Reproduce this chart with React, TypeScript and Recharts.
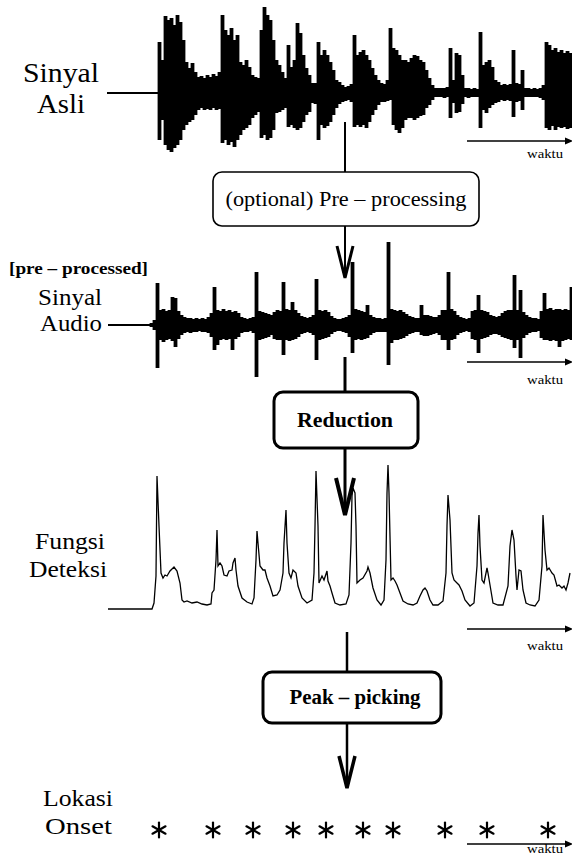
import { Bar, ComposedChart, Line, LineChart, Scatter, ScatterChart, XAxis, YAxis } from "recharts"

// Sinyal Asli: upper / lower envelope per 3px column (17 silent columns first)
const asliAtas = [
  1, 1, 1, 1, 1, 1, 1, 1, 1, 1, 1, 1, 1, 1, 1, 1, 1,
  51, 33, 77, 73, 75, 68, 78, 71, 53, 31,
  25, 30, 21, 16, 17, 15, 18, 16, 19, 17,
  21, 78, 63, 58, 65, 53, 58, 31, 28, 33,
  26, 18, 16, 15, 63, 86, 78, 73, 53, 33,
  28, 21, 15, 48, 26, 33, 70, 60, 38, 25,
  18, 10, 10, 51, 38, 43, 38, 31, 23, 13,
  11, 8, 6, 7, 9, 58, 38, 41, 43, 38,
  33, 25, 18, 13, 10, 9, 13, 65, 45, 43,
  38, 33, 33, 31, 35, 38, 37, 33, 31, 23,
  15, 8, 5, 5, 5, 5, 6, 45, 13, 40,
  38, 18, 5, 5, 4, 5, 4, 61, 28, 31,
  33, 26, 13, 11, 8, 9, 8, 9, 43, 10,
  9, 23, 5, 5, 4, 5, 4, 5, 8, 51,
  48, 43, 45, 41, 43, 40, 42, 40,
]
const asliBawah = [
  -1, -1, -1, -1, -1, -1, -1, -1, -1, -1, -1, -1, -1, -1, -1, -1, -1,
  -47, -27, -52, -57, -59, -55, -52, -47, -37, -32,
  -29, -27, -22, -17, -15, -17, -16, -17, -15, -17,
  -16, -50, -47, -52, -49, -54, -47, -42, -37, -35,
  -32, -25, -22, -19, -45, -42, -47, -45, -37, -20,
  -19, -17, -15, -34, -32, -35, -37, -35, -29, -22,
  -19, -10, -11, -47, -32, -35, -33, -29, -22, -15,
  -11, -9, -8, -7, -9, -34, -32, -34, -32, -35,
  -29, -22, -17, -12, -9, -9, -8, -7, -32, -37,
  -40, -35, -27, -25, -25, -27, -25, -23, -22, -15,
  -12, -7, -4, -4, -4, -5, -4, -25, -10, -20,
  -19, -11, -4, -5, -4, -4, -4, -35, -17, -20,
  -15, -12, -10, -9, -7, -8, -7, -8, -24, -9,
  -8, -17, -4, -4, -4, -4, -4, -5, -7, -35,
  -37, -33, -37, -34, -35, -34, -36, -35,
]

// Sinyal Audio (pre-processed): 14 silent columns first
const audioAtas = [
  1, 1, 1, 1, 1, 1, 1, 1, 1, 1, 1, 1, 1, 1,
  2, 5, 42, 15, 16, 14, 15, 28, 27, 14,
  10, 8, 7, 7, 6, 7, 6, 7, 6, 8,
  12, 38, 15, 14, 16, 14, 15, 13, 14, 12,
  8, 7, 6, 7, 8, 53, 14, 13, 12, 11,
  10, 13, 15, 14, 43, 16, 15, 23, 15, 12,
  9, 8, 7, 8, 10, 46, 15, 14, 15, 13,
  9, 7, 6, 6, 7, 8, 10, 63, 16, 15,
  14, 13, 20, 10, 8, 7, 7, 6, 7, 83,
  16, 15, 14, 15, 13, 11, 9, 8, 7, 7,
  20, 10, 10, 9, 8, 8, 10, 15, 15, 53,
  16, 14, 10, 8, 7, 6, 7, 14, 15, 30,
  15, 14, 13, 10, 9, 8, 9, 12, 14, 15,
  15, 50, 15, 35, 13, 10, 8, 7, 7, 6,
  14, 32, 16, 17, 15, 16, 16, 15, 16, 15, 38,
]
const audioBawah = [
  -1, -1, -1, -1, -1, -1, -1, -1, -1, -1, -1, -1, -1, -1,
  -2, -5, -43, -15, -17, -15, -14, -16, -22, -14,
  -10, -8, -7, -8, -7, -7, -6, -7, -7, -8,
  -12, -25, -20, -15, -14, -15, -14, -25, -14, -12,
  -8, -7, -7, -6, -8, -52, -15, -14, -13, -12,
  -10, -14, -15, -15, -30, -15, -16, -15, -14, -12,
  -9, -8, -7, -8, -10, -35, -15, -14, -13, -12,
  -9, -7, -6, -6, -7, -8, -12, -28, -15, -14,
  -15, -14, -13, -10, -8, -7, -7, -7, -7, -40,
  -18, -15, -15, -14, -13, -11, -9, -8, -7, -7,
  -10, -11, -11, -10, -9, -8, -10, -15, -15, -25,
  -15, -14, -10, -8, -7, -6, -7, -14, -15, -28,
  -14, -13, -12, -10, -9, -9, -10, -12, -13, -14,
  -15, -23, -15, -33, -13, -10, -8, -7, -7, -6,
  -13, -15, -15, -16, -15, -16, -22, -16, -15, -14, -15,
]

// Fungsi Deteksi: time / value pairs
const deteksiWaktu = [
  8, 52, 54, 56, 57, 59, 61, 63, 65, 67,
  70, 74, 77, 80, 82, 84, 87, 92, 97, 102,
  107, 111, 112, 114, 116, 117, 118, 120, 122, 124,
  127, 129, 132, 133, 135, 136, 138, 142, 147, 152,
  154, 156, 157, 158, 160, 163, 165, 167, 170, 173,
  177, 180, 183, 184, 186, 187, 189, 191, 193, 196,
  198, 202, 207, 212, 214, 215, 216, 218, 219, 222,
  224, 227, 228, 230, 232, 235, 240, 246, 249, 251,
  252, 253, 255, 256, 257, 260, 263, 267, 268, 270,
  273, 277, 281, 284, 286, 287, 288, 289, 291, 293,
  295, 297, 300, 303, 308, 313, 317, 320, 323, 325,
  327, 330, 333, 338, 343, 346, 347, 348, 350, 352,
  354, 357, 359, 362, 365, 370, 374, 377, 378, 379,
  380, 382, 384, 387, 388, 391, 393, 398, 403, 408,
  410, 412, 414, 416, 417, 419, 421, 423, 426, 430,
  435, 439, 442, 443, 445, 447, 449, 452, 454, 457,
  459, 462, 464, 466, 468, 470,
]
const deteksiNilai = [
  0, 0, 6, 33, 133, 83, 36, 31, 34, 33,
  38, 42, 38, 26, 9, 7, 8, 6, 7, 5,
  4, 5, 16, 19, 49, 79, 43, 46, 43, 34,
  33, 38, 39, 46, 51, 39, 23, 11, 7, 5,
  11, 49, 78, 66, 43, 39, 39, 31, 23, 13,
  14, 19, 36, 66, 99, 66, 36, 31, 39, 36,
  23, 11, 6, 9, 36, 83, 138, 83, 26, 33,
  29, 38, 28, 23, 16, 6, 4, 5, 14, 66,
  113, 121, 116, 83, 26, 29, 31, 38, 42, 36,
  21, 9, 4, 9, 49, 116, 144, 116, 29, 31,
  28, 24, 16, 8, 5, 4, 6, 13, 19, 21,
  18, 9, 4, 4, 8, 36, 83, 114, 89, 36,
  29, 26, 24, 18, 9, 3, 6, 43, 76, 94,
  63, 29, 26, 41, 36, 18, 6, 4, 4, 23,
  63, 79, 69, 33, 19, 39, 38, 19, 6, 4,
  3, 9, 43, 94, 59, 39, 41, 36, 34, 23,
  24, 21, 23, 19, 26, 36,
]

// Lokasi Onset
const onsetWaktu = [59, 113, 153, 193, 226, 263, 293, 345, 387, 448]

const serif = "Liberation Serif, Times New Roman, DejaVu Serif, serif"

const asliData = asliAtas.map((atas, i) => ({ i, rentang: [asliBawah[i], atas] }))
const audioData = audioAtas.map((atas, i) => ({ i, rentang: [audioBawah[i], atas] }))
const deteksiData = deteksiWaktu.map((t, i) => ({ t, v: deteksiNilai[i] }))
const onsetData = onsetWaktu.map((t) => ({ t, y: 0 }))

const noMargin = { top: 0, right: 0, bottom: 0, left: 0 }

const Asterisk = (props: any) => {
  const { cx, cy } = props
  return (
    <g stroke="#000" strokeWidth={2.2} strokeLinecap="round">
      <line x1={cx} y1={cy - 7.5} x2={cx} y2={cy + 7.5} />
      <line x1={cx - 6.5} y1={cy - 3.7} x2={cx + 6.5} y2={cy + 3.7} />
      <line x1={cx - 6.5} y1={cy + 3.7} x2={cx + 6.5} y2={cy - 3.7} />
    </g>
  )
}

// one waveform column, widened a hair so neighbours touch
const Kolom = (props: any) => {
  const { x, y, width, height } = props
  if (width == null || height == null) return null
  return <rect x={x - 0.4} y={y} width={width + 0.8} height={Math.max(height, 1)} fill="#000" />
}

function Waktu({ y, textY }: { y: number; textY: number }) {
  return (
    <g>
      <line x1={467} y1={y} x2={566} y2={y} stroke="#000" strokeWidth={1.6} />
      <polygon points={`565,${y - 3.5} 573,${y} 565,${y + 3.5}`} fill="#000" />
      <text x={527} y={textY} fontSize={12} textLength={36} lengthAdjust="spacingAndGlyphs">
        waktu
      </text>
    </g>
  )
}

function Diagram() {
  return (
    <svg
      width={572}
      height={856}
      style={{ position: "absolute", left: 0, top: 0, pointerEvents: "none", fontFamily: serif }}
      fill="#000"
    >
      {/* left labels */}
      <text x={23} y={82} fontSize={27} textLength={76} lengthAdjust="spacingAndGlyphs">Sinyal</text>
      <text x={37} y={113} fontSize={27} textLength={48} lengthAdjust="spacingAndGlyphs">Asli</text>
      <text x={9} y={274} fontSize={16} fontWeight="bold" textLength={139} lengthAdjust="spacingAndGlyphs">
        [pre – processed]
      </text>
      <text x={38} y={305} fontSize={24} textLength={64} lengthAdjust="spacingAndGlyphs">Sinyal</text>
      <text x={40} y={331} fontSize={24} textLength={62} lengthAdjust="spacingAndGlyphs">Audio</text>
      <text x={35} y={549} fontSize={24} textLength={70} lengthAdjust="spacingAndGlyphs">Fungsi</text>
      <text x={29} y={577} fontSize={24} textLength={78} lengthAdjust="spacingAndGlyphs">Deteksi</text>
      <text x={43} y={806} fontSize={24} textLength={70} lengthAdjust="spacingAndGlyphs">Lokasi</text>
      <text x={45} y={834} fontSize={24} textLength={67} lengthAdjust="spacingAndGlyphs">Onset</text>

      {/* time arrows */}
      <Waktu y={141} textY={158} />
      <Waktu y={362} textY={384} />
      <Waktu y={629} textY={650} />
      <Waktu y={844} textY={853} />

      {/* flow: pre-processing */}
      <line x1={345} y1={122} x2={345} y2={172} stroke="#000" strokeWidth={2} />
      <rect x={213} y={172} width={266} height={54} rx={9} fill="#fff" stroke="#000" strokeWidth={1.6} />
      <text x={346} y={206} fontSize={20} textAnchor="middle" textLength={241} lengthAdjust="spacingAndGlyphs">
        (optional) Pre – processing
      </text>
      <line x1={345} y1={226} x2={345} y2={276} stroke="#000" strokeWidth={2} />
      <polyline points="337,246 345,278 353,246" fill="none" stroke="#000" strokeWidth={3} />

      {/* flow: reduction */}
      <line x1={345} y1={357} x2={345} y2={392} stroke="#000" strokeWidth={3} />
      <rect x={274} y={392} width={144} height={56} rx={9} fill="#fff" stroke="#000" strokeWidth={3} />
      <text x={345} y={427} fontSize={20} fontWeight="bold" textAnchor="middle" textLength={96} lengthAdjust="spacingAndGlyphs">
        Reduction
      </text>
      <line x1={345} y1={448} x2={345} y2={512} stroke="#000" strokeWidth={3} />
      <polyline points="336,478 345,515 354,478" fill="none" stroke="#000" strokeWidth={4} />

      {/* flow: peak-picking */}
      <line x1={347} y1={632} x2={347} y2={672} stroke="#000" strokeWidth={2.5} />
      <rect x={263} y={672} width={178} height={51} rx={9} fill="#fff" stroke="#000" strokeWidth={3} />
      <text x={355} y={704} fontSize={20} fontWeight="bold" textAnchor="middle" textLength={131} lengthAdjust="spacingAndGlyphs">
        Peak – picking
      </text>
      <line x1={347} y1={723} x2={347} y2={786} stroke="#000" strokeWidth={2.5} />
      <polyline points="339,756 347,788 355,756" fill="none" stroke="#000" strokeWidth={3.5} />
    </svg>
  )
}

export default function App() {
  return (
    <div style={{ position: "absolute", left: 0, top: 0, width: 572, height: 856, background: "#fff", overflow: "hidden" }}>
      <div style={{ position: "absolute", left: 107, top: 0 }}>
        <ComposedChart width={465} height={160} data={asliData} margin={noMargin} barCategoryGap="0%" barGap={0}>
          <XAxis dataKey="i" hide />
          <YAxis hide domain={[-67, 93]} />
          <Bar dataKey="rentang" fill="#000" shape={Kolom} isAnimationActive={false} />
        </ComposedChart>
      </div>

      <div style={{ position: "absolute", left: 108, top: 240 }}>
        <ComposedChart width={465} height={140} data={audioData} margin={noMargin} barCategoryGap="0%" barGap={0}>
          <XAxis dataKey="i" hide />
          <YAxis hide domain={[-55, 85]} />
          <Bar dataKey="rentang" fill="#000" shape={Kolom} isAnimationActive={false} />
        </ComposedChart>
      </div>

      <div style={{ position: "absolute", left: 100, top: 460 }}>
        <LineChart width={472} height={160} data={deteksiData} margin={noMargin}>
          <XAxis dataKey="t" type="number" domain={[0, 472]} hide />
          <YAxis hide domain={[-11, 149]} />
          <Line type="linear" dataKey="v" stroke="#000" strokeWidth={1.3} dot={false} isAnimationActive={false} />
        </LineChart>
      </div>

      <div style={{ position: "absolute", left: 100, top: 815 }}>
        <ScatterChart width={472} height={30} margin={noMargin}>
          <XAxis dataKey="t" type="number" domain={[0, 472]} hide />
          <YAxis dataKey="y" type="number" domain={[-1, 1]} hide />
          <Scatter data={onsetData} shape={Asterisk} isAnimationActive={false} />
        </ScatterChart>
      </div>

      <Diagram />
    </div>
  )
}
